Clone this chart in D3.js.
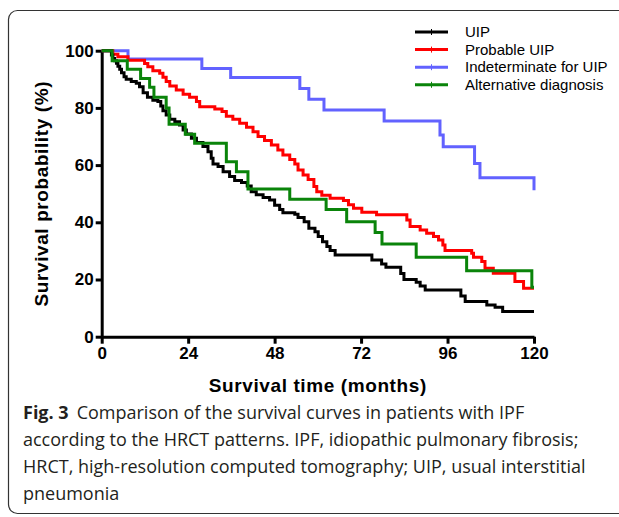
<!DOCTYPE html>
<html>
<head>
<meta charset="utf-8">
<script src="https://cdn.jsdelivr.net/npm/d3@7"></script>
<style>
  body { margin: 0; background: #fff; }
  svg { display: block; }
</style>
</head>
<body>
<div id="chart"></div>
<script>
// Kaplan-Meier steps (month, survival %)
const uipTime = [0, 2.7, 3.1, 3.6, 4.1, 4.5, 5.0, 5.5, 6.2, 6.8, 8.2, 9.6, 10.5, 11.5, 12.7, 14.2, 15.6, 16.4, 17.0, 17.9, 18.9, 20.3, 21.6, 22.6, 23.5, 24.9, 26.3, 28.1, 29.5, 30.4, 30.9, 32.3, 33.7, 35.5, 36.9, 38.8, 40.4, 41.5, 42.9, 44.8, 46.6, 48.0, 49.4, 50.3, 53.6, 54.5, 56.2, 57.5, 59.2, 60.1, 61.3, 62.5, 63.4, 64.8, 75.0, 77.7, 78.9, 83.0, 83.9, 87.3, 88.4, 89.8, 99.7, 100.9, 106.9, 109.2, 111.3, 120];
const uipSurv = [100, 98.5, 97.3, 96.5, 95.6, 94.6, 93.5, 92.3, 90.9, 90.0, 89.2, 88.6, 87.4, 85.3, 83.7, 82.7, 82.2, 80.7, 79.0, 77.5, 76.0, 75.2, 74.0, 72.3, 70.9, 69.4, 67.9, 66.5, 64.7, 62.4, 60.4, 59.5, 57.7, 56.0, 54.6, 53.9, 52.7, 50.7, 49.6, 48.7, 47.8, 46.0, 44.5, 43.3, 42.8, 41.7, 40.2, 37.9, 36.7, 35.0, 33.2, 31.5, 30.1, 28.6, 26.8, 25.4, 24.3, 22.1, 20.0, 19.0, 17.7, 16.3, 14.2, 12.3, 11.1, 10.3, 8.8, 8.8];

const probTime = [0, 3.1, 4.5, 7.3, 11.9, 12.8, 14.2, 16.1, 17.0, 17.9, 18.9, 20.7, 22.6, 24.4, 26.3, 27.2, 31.4, 33.4, 34.6, 36.4, 38.3, 40.2, 42.0, 43.4, 45.2, 47.1, 48.9, 50.3, 52.2, 53.6, 54.5, 55.9, 57.3, 58.9, 59.7, 61.1, 63.4, 67.1, 68.5, 69.9, 72.2, 76.3, 84.7, 85.6, 88.4, 90.2, 92.1, 93.5, 94.7, 95.3, 102.7, 103.2, 105.5, 106.4, 108.7, 114.7, 117.1, 120];
const probSurv = [100, 98.8, 97.9, 96.7, 95.5, 94.4, 93.0, 92.1, 90.7, 89.2, 87.7, 86.3, 84.8, 83.7, 82.2, 80.4, 79.6, 78.7, 77.1, 76.0, 74.6, 73.2, 71.7, 70.0, 68.6, 67.0, 65.3, 63.5, 62.0, 60.4, 58.3, 56.5, 55.0, 52.5, 50.7, 49.5, 48.4, 47.6, 46.1, 44.9, 43.5, 42.6, 40.8, 38.5, 37.3, 36.2, 35.0, 33.8, 32.1, 30.1, 29.2, 27.8, 26.3, 23.9, 22.2, 19.3, 16.9, 16.9];

const indetTime = [0, 7.3, 27.8, 35.8, 55.0, 57.5, 61.7, 78.4, 93.9, 94.8, 103.5, 105.0, 120];
const indetSurv = [100, 97.1, 93.8, 90.6, 86.8, 83.0, 79.3, 75.4, 70.5, 66.4, 60.6, 55.6, 51.2];

const altTime = [0, 2.9, 7.1, 10.8, 13.3, 14.5, 17.9, 18.7, 23.2, 25.8, 34.6, 37.4, 40.6, 52.2, 62.3, 68.0, 75.9, 77.8, 87.3, 101.3, 119.4, 120];
const altSurv = [100, 96.5, 93.5, 90.3, 87.2, 83.7, 80.0, 74.3, 70.8, 67.6, 61.2, 57.7, 51.6, 48.1, 44.5, 40.2, 36.4, 32.4, 27.8, 23.1, 17.3, 17.3];

const seriesNames = ["UIP", "Probable UIP", "Indeterminate for UIP", "Alternative diagnosis"];
const seriesColors = ["#000000", "#ff0000", "#6262ff", "#0a840a"];
const xTicks = [0, 24, 48, 72, 96, 120];
const yTicks = [0, 20, 40, 60, 80, 100];

const captionLines = [
  "according to the HRCT patterns. IPF, idiopathic pulmonary fibrosis;",
  "HRCT, high-resolution computed tomography; UIP, usual interstitial",
  "pneumonia"
];

const W = 619, H = 517;
const svg = d3.select("#chart").append("svg")
  .attr("width", W).attr("height", H);

// card border
svg.append("rect")
  .attr("x", 8.5).attr("y", 10.5)
  .attr("width", 660).attr("height", 503)
  .attr("rx", 9)
  .attr("fill", "none")
  .attr("stroke", "#333")
  .attr("stroke-width", 1.2);

const x = d3.scaleLinear().domain([0, 120]).range([101.7, 534]);
const y = d3.scaleLinear().domain([0, 100]).range([336.7, 50.7]);

const axisFont = "Arial, 'Liberation Sans', sans-serif";

let xAxis = d3.axisBottom(x).tickValues(xTicks).tickSize(7).tickSizeOuter(0).tickPadding(3);
let yAxis = d3.axisLeft(y).tickValues(yTicks).tickSize(6).tickSizeOuter(0).tickPadding(2);

const gx = svg.append("g")
  .attr("transform", `translate(0, ${y(0)})`)
  .call(xAxis);
const gy = svg.append("g")
  .attr("transform", `translate(${x(0)}, 0)`)
  .call(yAxis);

[gx, gy].forEach(g => {
  g.select(".domain").attr("stroke", "#000").attr("stroke-width", 3);
  g.selectAll(".tick line").attr("stroke", "#000").attr("stroke-width", 3);
  g.selectAll(".tick text")
    .attr("fill", "#000")
    .style("font-family", axisFont)
    .style("font-weight", "bold")
    .style("font-size", "17px");
});

// axis titles
svg.append("text")
  .attr("x", (x(0) + x(120)) / 2)
  .attr("y", 392)
  .attr("text-anchor", "middle")
  .style("font-family", axisFont)
  .style("font-weight", "bold")
  .style("font-size", "19px")
  .style("letter-spacing", "0.6px")
  .text("Survival time (months)");

svg.append("text")
  .attr("transform", `translate(48, ${(y(0) + y(100)) / 2}) rotate(-90)`)
  .attr("text-anchor", "middle")
  .style("font-family", axisFont)
  .style("font-weight", "bold")
  .style("font-size", "19px")
  .style("letter-spacing", "0.6px")
  .text("Survival probability (%)");

// curves
const allSeries = [
  [uipTime, uipSurv],
  [probTime, probSurv],
  [indetTime, indetSurv],
  [altTime, altSurv]
];

let line = d3.line()
  .x(d => x(d.t))
  .y(d => y(d.s))
  .curve(d3.curveStepAfter);

// blue first, then red, black, green on top
const drawOrder = [2, 1, 0, 3];
drawOrder.forEach(i => {
  const pts = allSeries[i][0].map((t, k) => ({t: t, s: allSeries[i][1][k]}));
  svg.append("path")
    .datum(pts)
    .attr("fill", "none")
    .attr("stroke", seriesColors[i])
    .attr("stroke-width", 3)
    .attr("stroke-linejoin", "miter")
    .attr("d", line);
});

// legend
const legend = svg.append("g");
seriesNames.forEach((name, i) => {
  const ly = 32 + i * 17.6;
  legend.append("line")
    .attr("x1", 415).attr("x2", 448)
    .attr("y1", ly).attr("y2", ly)
    .attr("stroke", seriesColors[i])
    .attr("stroke-width", 3);
  legend.append("line")
    .attr("x1", 431.5).attr("x2", 431.5)
    .attr("y1", ly - 3).attr("y2", ly + 3)
    .attr("stroke", seriesColors[i])
    .attr("stroke-width", 1);
  legend.append("text")
    .attr("x", 465).attr("y", ly + 5)
    .style("font-family", axisFont)
    .style("font-size", "15px")
    .text(name);
});

// caption
const capFont = "'Open Sans', 'Noto Sans', sans-serif";
const cap = svg.append("g").style("font-family", capFont).style("font-size", "18px").attr("fill", "#231f20");
const first = cap.append("text").attr("x", 23).attr("y", 419);
first.append("tspan").style("font-weight", "bold").text("Fig. 3");
first.append("tspan").attr("dx", 8).text("Comparison of the survival curves in patients with IPF");
captionLines.forEach((txt, i) => {
  cap.append("text")
    .attr("x", 23)
    .attr("y", 446 + i * 27)
    .text(txt);
});
</script>
</body>
</html>
